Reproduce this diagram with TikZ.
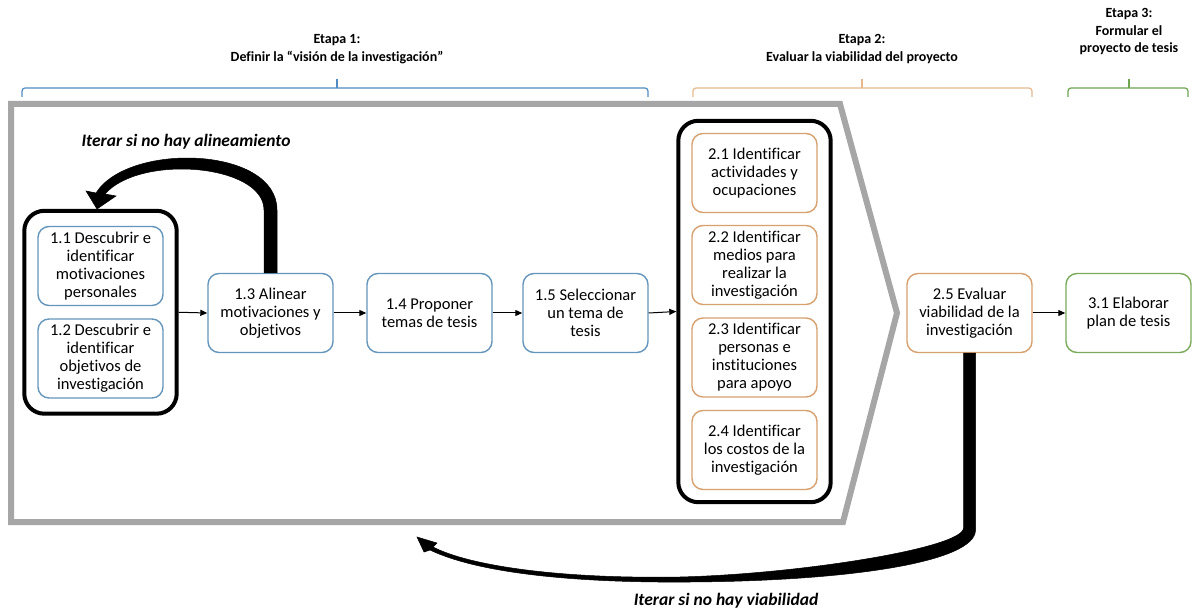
\documentclass[tikz,border=0pt]{standalone}
\usepackage{fontspec}
\setmainfont{Carlito}[Ligatures=NoCommon]
\usetikzlibrary{arrows.meta,calc,fit}
\definecolor{cblue}{RGB}{100,150,188}
\definecolor{corange}{RGB}{215,160,110}
\definecolor{cgreen}{RGB}{120,170,90}
\definecolor{brblue}{RGB}{80,140,195}
\definecolor{brorange}{RGB}{230,185,140}
\definecolor{brgreen}{RGB}{110,165,80}
\definecolor{cgray}{RGB}{166,166,166}
\tikzset{
  box/.style={draw, rounded corners=11, line width=1.4, minimum width=125, minimum height=79,
    align=center, inner sep=2, font=\fontsize{16.5}{18}\selectfont},
  bluebox/.style={box, draw=cblue},
  orangebox/.style={box, draw=corange},
  greenbox/.style={box, draw=cgreen},
  grp/.style={draw=black, line width=4, rounded corners=20, inner xsep=13},
  arr/.style={-{Triangle[length=7,width=6]}, line width=1},
  head/.style={align=center, font=\fontsize{14}{17.5}\selectfont\bfseries, inner sep=0},
  lab/.style={font=\fontsize{17.5}{18}\selectfont\bfseries\itshape, inner sep=0},
  bracket/.style={line width=1.2, rounded corners=3},
  loop/.style={fill=black, draw=black, line width=0.5}
}
\begin{document}
\begin{tikzpicture}[x=1pt,y=-1pt]
\useasboundingbox (0,0) rectangle (1192,612);
\fill[white] (0,0) rectangle (1192,612);

% chevron outline
\draw[cgray, line width=6, line join=miter] (11,104) -- (840,104) -- (897,313) -- (843,522) -- (11,522) -- cycle;

% headings
\node[head] (e1) at (337,49) {Etapa 1:\\Definir la “visión de la investigación”};
\node[head] (e2) at (862,49) {Etapa 2:\\Evaluar la viabilidad del proyecto};
\node[head] (e3) at (1129,32) {Etapa 3:\\Formular el\\proyecto de tesis};

% brackets
\draw[bracket, brblue] (22,97) -- (22,88) -- (648,88) -- (648,97);
\draw[brblue, line width=1.2] (337,88) -- (337,79);
\draw[bracket, brorange] (693,97) -- (693,88) -- (1032,88) -- (1032,97);
\draw[brorange, line width=1.2] (862,88) -- (862,79);
\draw[bracket, brgreen] (1068,97) -- (1068,88) -- (1188,88) -- (1188,97);
\draw[brgreen, line width=1.2] (1129,88) -- (1129,79);

% stage 1 boxes
\node[bluebox] (b11) at (100.5,266) {1.1 Descubrir e\\identificar\\motivaciones\\personales};
\node[bluebox] (b12) at (100.5,358.5) {1.2 Descubrir e\\identificar\\objetivos de\\investigación};
\node[grp, fit=(b11)(b12), inner ysep=15] (g1) {};
\node[bluebox] (b13) at (270.5,313) {1.3 Alinear\\motivaciones y\\objetivos};
\node[bluebox] (b14) at (429.5,313) {1.4 Proponer\\temas de tesis};
\node[bluebox] (b15) at (585.5,313) {1.5 Seleccionar\\un tema de\\tesis};

% stage 2 boxes
\node[orangebox] (b21) at (754.5,173) {2.1 Identificar\\actividades y\\ocupaciones};
\node[orangebox] (b22) at (754.5,265) {2.2 Identificar\\medios para\\realizar la\\investigación};
\node[orangebox] (b23) at (754.5,357.5) {2.3 Identificar\\personas e\\instituciones\\para apoyo};
\node[orangebox] (b24) at (754.5,450) {2.4 Identificar\\los costos de la\\investigación};
\node[grp, fit=(b21)(b24), inner ysep=12] (g2) {};
\node[orangebox] (b25) at (969.5,313) {2.5 Evaluar\\viabilidad de la\\investigación};

% stage 3
\node[greenbox] (b31) at (1128.5,313) {3.1 Elaborar\\plan de tesis};

% connectors
\draw[arr] (g1.east) -- (b13.west);
\draw[arr] (b13.east) -- (b14.west);
\draw[arr] (b14.east) -- (b15.west);
\draw[arr] (b15.east) -- (g2.west);
\draw[arr] (b25.east) -- (b31.west);

% loop arrow: iterate if no alignment
\fill[loop] ($(b13.north)+(-6.5,0)$) -- (264,210)
  .. controls (264,164) and (140,154) .. (105,194)
  -- (116,196) -- (97,209) -- (86,191) -- (96,193)
  .. controls (128,142) and (277,146) .. (277,210)
  -- ($(b13.north)+(6.5,0)$) -- cycle;
\node[lab] (l1) at (186,142) {Iterar si no hay alineamiento};

% loop arrow: iterate if not viable
\fill[loop] ($(b25.south)+(-6,0)$) -- (963.5,528)
  .. controls (963.5,548) and (800,574) .. (680,577)
  .. controls (560,579) and (470,566) .. (433,547)
  -- (437,543) -- (417,537) -- (424,552) -- (430,550)
  .. controls (480,574) and (580,583) .. (690,582)
  .. controls (850,581) and (975.5,562) .. (975.5,530)
  -- ($(b25.south)+(6,0)$) -- cycle;
\node[lab] (l2) at (726,601) {Iterar si no hay viabilidad};
\end{tikzpicture}
\end{document}
